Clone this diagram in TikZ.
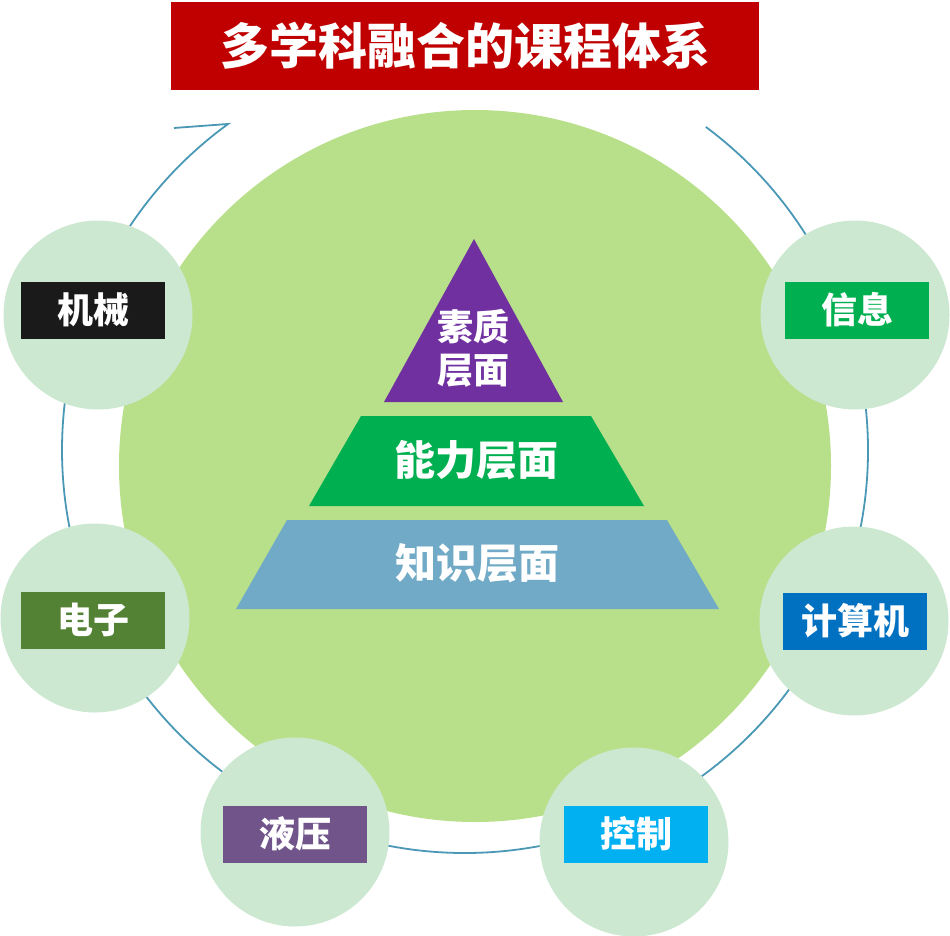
\documentclass[tikz,border=0pt]{standalone}
\usepackage{xcolor}
\usepackage{fontspec}
\newfontfamily\cjk{Noto Sans CJK SC}
\usetikzlibrary{calc}
\usetikzlibrary{positioning}
\definecolor{titlered}{HTML}{C00000}
\definecolor{bigleaf}{HTML}{B8DF8A}
\definecolor{paleleaf}{HTML}{CCE8D1}
\definecolor{ringblue}{HTML}{4A98B6}
\definecolor{topviolet}{HTML}{7030A0}
\definecolor{midgreen}{HTML}{00B050}
\definecolor{lowblue}{HTML}{71AAC6}
\definecolor{jixiecol}{HTML}{1A1A1A}
\definecolor{dianzicol}{HTML}{548235}
\definecolor{jisuancol}{HTML}{0070C0}
\definecolor{yeyacol}{HTML}{70548A}
\definecolor{kongzhicol}{HTML}{00B0F0}
\tikzset{
  subjcircle/.style={circle,fill=paleleaf,minimum size=189pt,inner sep=0pt},
  subjlabel/.style={fill=#1,text=white,minimum width=144pt,minimum height=57pt,inner sep=0pt,font=\cjk\bfseries\fontsize{36}{40}\selectfont},
  layertext/.style={text=white,font=\cjk\bfseries\fontsize{41}{44}\selectfont,align=center}
}

\begin{document}
\begin{tikzpicture}[x=1pt,y=-1pt]
\useasboundingbox (0,0) rectangle (950,936);
\node[fill=titlered,text=white,minimum width=588pt,minimum height=88pt,inner sep=0pt,font=\cjk\bfseries\fontsize{49}{52}\selectfont] (title) at (465,46) {多学科融合的课程体系};

\fill[bigleaf] (475,466) circle (356pt);
\coordinate (ring) at (465,450);
\coordinate (ringstart) at ($(ring)+(53.3:403pt)$);
\coordinate (ringtip) at (174,128);
\draw[ringblue,line width=1.8pt] (ringstart) arc[start angle=53.3,end angle=-234,radius=403pt] -- (ringtip);

\fill[topviolet] (474,239) -- (563,402) -- (384,402) -- cycle;
\fill[midgreen] (361,416) -- (591,416) -- (644,506) -- (309,506) -- cycle;
\fill[lowblue] (287,520) -- (667,520) -- (719,609) -- (236,609) -- cycle;
\node[layertext,font=\cjk\bfseries\fontsize{36}{43}\selectfont] (suzhi) at (473,348) {素质\\层面};
\node[layertext] (nengli) at (476,460) {能力层面};
\node[layertext] (zhishi) at (477,563) {知识层面};

\node[subjcircle] (c1) at (98,315) {};
\node[subjcircle] (c2) at (855,315) {};
\node[subjcircle] (c3) at (95,618) {};
\node[subjcircle] (c4) at (854,621) {};
\node[subjcircle] (c5) at (295,832) {};
\node[subjcircle] (c6) at (634,842) {};
\node[subjlabel=jixiecol] (jixie) at (93,310) {机械};
\node[subjlabel=midgreen] (xinxi) at (857,310) {信息};
\node[subjlabel=dianzicol] (dianzi) at (93,620) {电子};
\node[subjlabel=jisuancol] (jisuanji) at (855,621) {计算机};
\node[subjlabel=yeyacol] (yeya) at (295,834) {液压};
\node[subjlabel=kongzhicol] (kongzhi) at (636,834) {控制};
\end{tikzpicture}
\end{document}
